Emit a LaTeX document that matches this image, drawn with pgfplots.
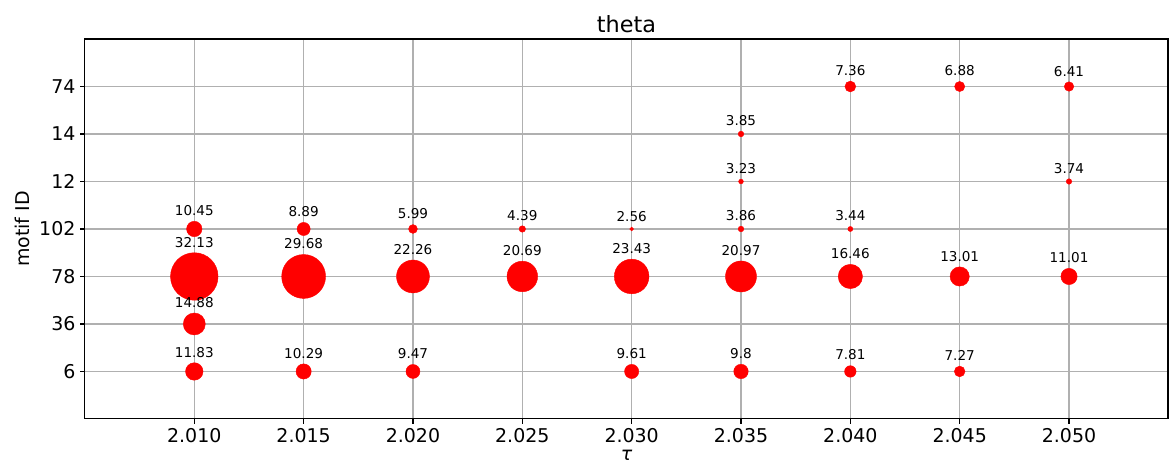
\documentclass[border=0pt]{standalone}
\usepackage{fontspec}
\setmainfont{DejaVu Sans}
\usepackage{pgfplots}
\pgfplotsset{compat=1.18}
\usepackage{pgfplotstable}
\definecolor{gridgray}{HTML}{B0B0B0}
\pgfplotstableread{
x y v
0 0 11.83
0 1 14.88
0 2 32.13
0 3 10.45
1 0 10.29
1 2 29.68
1 3 8.89
2 0 9.47
2 2 22.26
2 3 5.99
3 2 20.69
3 3 4.39
4 0 9.61
4 2 23.43
4 3 2.56
5 0 9.8
5 2 20.97
5 3 3.86
5 4 3.23
5 5 3.85
6 0 7.81
6 2 16.46
6 3 3.44
6 6 7.36
7 0 7.27
7 2 13.01
7 6 6.88
8 2 11.01
8 4 3.74
8 6 6.41
}\bubbles
\begin{document}
\begin{tikzpicture}
\useasboundingbox (-62.7pt,-36.2pt) rectangle (800.8pt,309.2pt);
\begin{axis}[
  at={(0,0)}, anchor=south west,
  scale only axis, width=799.3pt, height=280.4pt,
  xmin=-1, xmax=8.905, ymin=-1, ymax=7,
  xtick={0,...,8},
  xticklabels={2.010,2.015,2.020,2.025,2.030,2.035,2.040,2.045,2.050},
  ytick={0,...,6},
  yticklabels={6,36,78,102,12,14,74},
  /pgf/number format/assume math mode=true,
  tick label style={font=\fontsize{14}{17}\selectfont},
  tick align=outside, xtick pos=bottom, ytick pos=left,
  major tick length=3.5pt,
  every tick/.style={black, line width=0.8pt},
  axis line style={black, line width=0.8pt},
  grid=major,
  major grid style={gridgray, line width=0.8pt},
  axis on top,
  every axis title shift=0pt,
  title={theta},
  title style={at={(rel axis cs:0.5,1)}, anchor=base, yshift=4.5pt, font=\fontsize{16.5}{19}\selectfont},
  xlabel={\itshape τ},
  xlabel style={at={(rel axis cs:0.5,0)}, anchor=base, yshift=-31pt, font=\fontsize{14}{17}\selectfont},
  ylabel={motif ID},
  every axis y label/.style={at={(rel axis cs:0,0.5)}, xshift=-46.5pt, rotate=90, anchor=center, font=\fontsize{14}{17}\selectfont},
]
\addplot[
  scatter, only marks, mark=*,
  point meta=\thisrow{v},
  visualization depends on={0.546*\thisrow{v} \as \msize},
  scatter/@pre marker code/.code={\pgfsetfillcolor{red}\pgfsetstrokecolor{red}\pgfsetlinewidth{0.3pt}\tikzset{mark size=\msize pt}},
  scatter/@post marker code/.code={},
] table[x=x, y=y] {\bubbles};
\addplot[
  draw=none, mark=none,
  point meta=\thisrow{v},
  visualization depends on={0.546*\thisrow{v}+4.2 \as \lshift},
  nodes near coords={\pgfmathprintnumber[fixed,precision=2]{\pgfplotspointmeta}},
  nodes near coords style={anchor=base, yshift=\lshift pt, text=black, font=\fontsize{10}{12}\selectfont, inner sep=0pt},
] table[x=x, y=y] {\bubbles};
\end{axis}
\end{tikzpicture}
\end{document}
